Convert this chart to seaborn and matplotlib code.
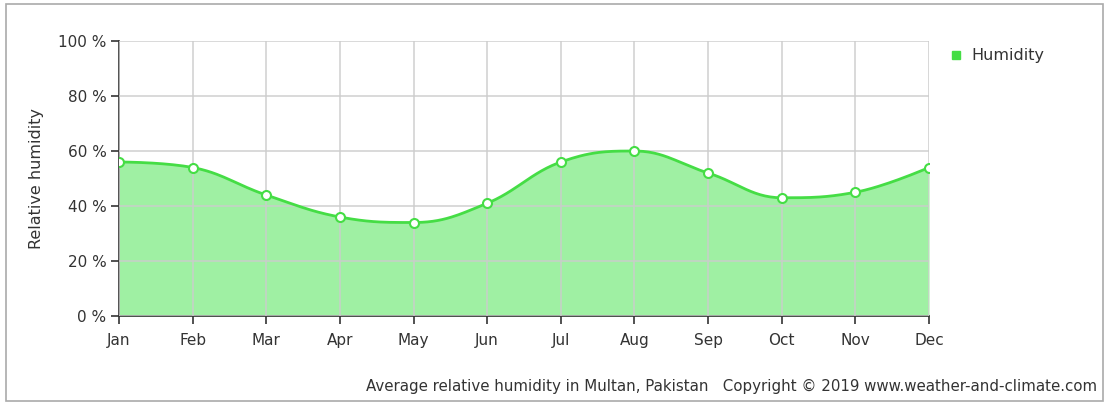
import numpy as np
import pandas as pd
import matplotlib
matplotlib.use("Agg")
import matplotlib.pyplot as plt
import seaborn as sns
from matplotlib.patches import Rectangle
from matplotlib.lines import Line2D

months = ["Jan", "Feb", "Mar", "Apr", "May", "Jun", "Jul", "Aug", "Sep", "Oct", "Nov", "Dec"]
humidity = [56, 54, 44, 36, 34, 41, 56, 60, 52, 43, 45, 54]
yticks = [0, 20, 40, 60, 80, 100]

line_col = "#45dd45"
fill_col = "#9ff0a3"

sns.set_style("white")
plt.rcParams["font.family"] = ["DejaVu Sans"]


# spline like the web chart draws it (smoothing 1.5), only for drawing the curve
def spline_controls(xs, ys, i, s=1.5):
    x, y = xs[i], ys[i]
    if i == 0 or i == len(xs) - 1:
        return (x, y), (x, y)
    lx, ly = xs[i - 1], ys[i - 1]
    nx, ny = xs[i + 1], ys[i + 1]
    d = s + 1
    lcx, lcy = (s * x + lx) / d, (s * y + ly) / d
    rcx, rcy = (s * x + nx) / d, (s * y + ny) / d
    corr = (rcy - lcy) * (rcx - x) / (rcx - lcx) + y - rcy
    lcy += corr
    rcy += corr
    if lcy > ly and lcy > y:
        lcy = max(ly, y); rcy = 2 * y - lcy
    elif lcy < ly and lcy < y:
        lcy = min(ly, y); rcy = 2 * y - lcy
    if rcy > ny and rcy > y:
        rcy = max(ny, y); lcy = 2 * y - rcy
    elif rcy < ny and rcy < y:
        rcy = min(ny, y); lcy = 2 * y - rcy
    return (lcx, lcy), (rcx, rcy)


xs = list(range(len(months)))
ctrl = [spline_controls(xs, humidity, i) for i in xs]
cx, cy = [], []
t = np.linspace(0, 1, 30)
for i in range(len(xs) - 1):
    p0 = np.array([xs[i], humidity[i]])
    p1 = np.array(ctrl[i][1])
    p2 = np.array(ctrl[i + 1][0])
    p3 = np.array([xs[i + 1], humidity[i + 1]])
    pts = ((1 - t) ** 3)[:, None] * p0 + (3 * (1 - t) ** 2 * t)[:, None] * p1 \
        + (3 * (1 - t) * t ** 2)[:, None] * p2 + (t ** 3)[:, None] * p3
    cx.extend(pts[:, 0]); cy.extend(pts[:, 1])
curve = pd.DataFrame({"x": cx, "y": cy})

fig = plt.figure(figsize=(11.06, 4.03), dpi=100)
ax = fig.add_axes([119 / 1106, 1 - 316 / 403, 810 / 1106, 275 / 403])

ax.fill_between(curve["x"], 0, curve["y"], color=fill_col, zorder=1, lw=0)
sns.lineplot(data=curve, x="x", y="y", ax=ax, color=line_col, lw=2, zorder=3, sort=False)
sns.scatterplot(x=xs, y=humidity, ax=ax, s=42, color="white", edgecolor=line_col,
                linewidth=1.5, zorder=4)

ax.set_xlim(0, 11)
ax.set_ylim(0, 100)
ax.set_xticks(xs)
ax.set_xticklabels(months)
ax.set_yticks(yticks)
ax.set_yticklabels([f"{v} %" for v in yticks])
ax.grid(True, color="#cccccc", lw=1.2, zorder=2, alpha=0.85)
ax.set_axisbelow(False)
ax.tick_params(axis="both", labelsize=11, colors="#333333", length=6, width=1.2,
               left=True, bottom=True, pad=3)
ax.tick_params(axis="x", pad=6)
ax.set_xlabel("")
ax.set_ylabel("Relative humidity", fontsize=11.5, color="#333333", labelpad=10)
for side in ["top", "right"]:
    ax.spines[side].set_visible(False)
for side in ["left", "bottom"]:
    ax.spines[side].set_color("#333333")
    ax.spines[side].set_linewidth(1.2)
ax.plot([1, 1], [0, 1], transform=ax.transAxes, color="#dddddd", lw=1, zorder=2)

leg = ax.legend(handles=[Line2D([], [], marker="s", ls="", color=line_col, markersize=6)],
                labels=["Humidity"], loc="upper left", bbox_to_anchor=(1.0, 1.025),
                frameon=False, fontsize=11.5, handletextpad=0.15, handlelength=1.6)
for txt in leg.get_texts():
    txt.set_color("#333333")

fig.text(1097 / 1106, 1 - 386 / 403,
         "Average relative humidity in Multan, Pakistan   Copyright \u00a9 2019 www.weather-and-climate.com",
         ha="right", va="center", fontsize=10.8, color="#333333")

fig.patches.append(Rectangle((6 / 1106, 2 / 403), 1097 / 1106, 397 / 403,
                             transform=fig.transFigure, fill=False,
                             edgecolor="#aaaaaa", lw=1.2))

fig.savefig("out.png", dpi=100)
